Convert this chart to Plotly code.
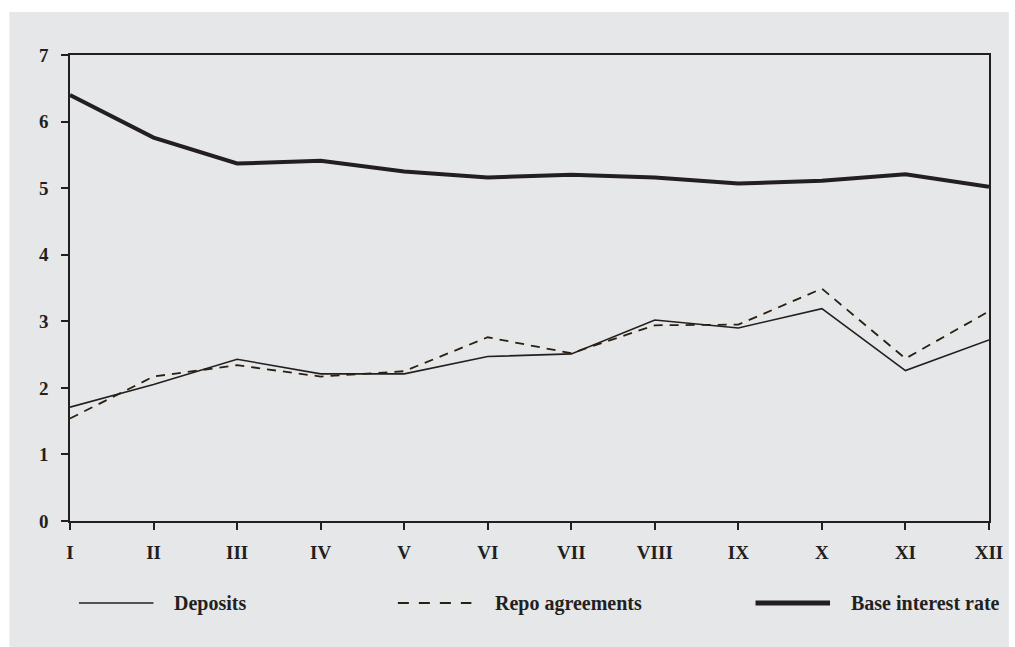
import plotly.graph_objects as go

# Months of the year as Roman numerals
months = ["I", "II", "III", "IV", "V", "VI", "VII", "VIII", "IX", "X", "XI", "XII"]

# Interest rates, %
deposits = [1.71, 2.05, 2.43, 2.21, 2.21, 2.47, 2.51, 3.02, 2.90, 3.19, 2.26, 2.72]
repo_agreements = [1.54, 2.17, 2.34, 2.17, 2.25, 2.76, 2.52, 2.94, 2.95, 3.49, 2.44, 3.15]
base_rate = [6.40, 5.76, 5.37, 5.41, 5.25, 5.16, 5.20, 5.16, 5.07, 5.11, 5.21, 5.02]

y_ticks = [0, 1, 2, 3, 4, 5, 6, 7]
series_names = ["Deposits", "Repo agreements", "Base interest rate"]

INK = "#231f20"
PANEL = "#e6e7e9"
FONT = "Liberation Serif"

fig = go.Figure()

fig.add_trace(go.Scatter(x=months, y=deposits, mode="lines", name=series_names[0],
                         line=dict(color=INK, width=1.6)))
fig.add_trace(go.Scatter(x=months, y=repo_agreements, mode="lines", name=series_names[1],
                         line=dict(color="#2a2010", width=1.8, dash="9px,7px")))
fig.add_trace(go.Scatter(x=months, y=base_rate, mode="lines", name=series_names[2],
                         line=dict(color=INK, width=4)))

# Plot area geometry (pixels) used to place the panel and the legend row
W, H = 1015, 647
L, R, T, B = 70, 20, 55, 126
pw, ph = W - L - R, H - T - B


def px_x(x):
    return (x - L) / pw


def px_y(y):
    return (H - B - y) / ph


shapes = [
    # grey panel behind the whole chart
    dict(type="rect", xref="paper", yref="paper", layer="below",
         x0=px_x(9), x1=px_x(1015), y0=px_y(647), y1=px_y(12),
         fillcolor=PANEL, line=dict(width=0)),
]
annotations = []

# legend row: sample line + bold label
legend_items = [
    (79, 154, 173, dict(color=INK, width=1.6)),
    (400, 474, 496, dict(color="#2a2010", width=2, dash="11px,10px")),
    (760, 835, 854, dict(color=INK, width=5)),
]
leg_y = 603
for name, (x0, x1, tx, ln) in zip(series_names, legend_items):
    shapes.append(dict(type="line", xref="paper", yref="paper",
                       x0=px_x(x0), x1=px_x(x1), y0=px_y(leg_y), y1=px_y(leg_y), line=ln))
    annotations.append(dict(xref="paper", yref="paper", x=px_x(tx), y=px_y(leg_y),
                            xanchor="left", yanchor="middle", showarrow=False, text=name,
                            font=dict(family=FONT, size=20, color=INK, weight="bold")))

fig.update_layout(
    width=W, height=H,
    margin=dict(l=L, r=R, t=T, b=B),
    paper_bgcolor="white",
    plot_bgcolor=PANEL,
    showlegend=False,
    shapes=shapes,
    annotations=annotations,
    font=dict(family=FONT, color=INK),
)

fig.update_xaxes(
    type="category", range=[0, len(months) - 1],
    showgrid=False, zeroline=False,
    showline=True, linecolor=INK, linewidth=1.5, mirror=True,
    ticks="outside", ticklen=7, tickwidth=1.5, tickcolor=INK,
    ticklabelstandoff=6,
    tickfont=dict(family=FONT, size=19, color=INK, weight="bold"),
)
fig.update_yaxes(
    range=[0, 7], tickvals=y_ticks, ticktext=[str(v) for v in y_ticks],
    showgrid=False, zeroline=False,
    showline=True, linecolor=INK, linewidth=1.5, mirror=True,
    ticks="outside", ticklen=7, tickwidth=1.5, tickcolor=INK,
    ticklabelstandoff=9,
    tickfont=dict(family=FONT, size=19, color=INK, weight="bold"),
)

fig.write_html("out.html")
